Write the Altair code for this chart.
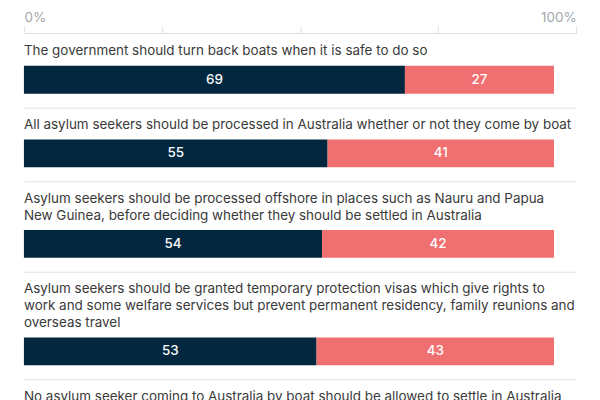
import altair as alt
import pandas as pd

# ---- data ----
questions = [
    ["The government should turn back boats when it is safe to do so"],
    ["All asylum seekers should be processed in Australia whether or not they come by boat"],
    ["Asylum seekers should be processed offshore in places such as Nauru and Papua",
     "New Guinea, before deciding whether they should be settled in Australia"],
    ["Asylum seekers should be granted temporary protection visas which give rights to",
     "work and some welfare services but prevent permanent residency, family reunions and",
     "overseas travel"],
    ["No asylum seeker coming to Australia by boat should be allowed to settle in Australia"],
]
agree = [69, 55, 54, 53, None]      # last row is cut off in the reference
disagree = [27, 41, 42, 43, None]
series = ["Agree", "Disagree"]
series_colors = ["#02273f", "#f07072"]
tick_values = [0, 25, 50, 75, 100]

rows = []
for i in range(len(questions)):
    for order, (name, vals) in enumerate(zip(series, [agree, disagree])):
        if vals[i] is not None:
            rows.append({"row": i, "series": name, "order": order, "value": vals[i]})
df = pd.DataFrame(rows, columns=["row", "series", "order", "value"])

FONT = "Inter"
W = 555
BAR_H = 28
LINE = "#dbe2e8"
FS = 13.5

xscale = alt.Scale(domain=[0, 100], nice=False, zero=True)

# ---- top axis panel ----
axis_df = pd.DataFrame({"t": tick_values})
axis_panel = alt.Chart(axis_df).mark_rule(opacity=0).encode(
    x=alt.X("t:Q", scale=xscale,
            axis=alt.Axis(orient="top", values=tick_values, title=None,
                          labelExpr="datum.value == 0 || datum.value == 100 ? datum.value + '%' : ''",
                          labelFlush=True, tickSize=7, tickColor=LINE, domainColor=LINE,
                          labelColor="#a3a8ad", labelFontSize=FS, labelFont=FONT,
                          labelPadding=2, grid=False))
).properties(width=W, height=1)

# ---- one panel per question ----
panels = [axis_panel]
for i, lines in enumerate(questions):
    base = alt.Chart(df).transform_filter(alt.datum.row == i).transform_stack(
        stack="value", groupby=["row"], as_=["x0", "x1"],
        sort=[alt.SortField("order", order="ascending")]
    ).transform_calculate(mid="(datum.x0 + datum.x1) / 2")

    y = alt.Y("row:N", axis=None, scale=alt.Scale(paddingInner=0, paddingOuter=0))
    bars = base.mark_bar(cornerRadius=0).encode(
        x=alt.X("x0:Q", scale=xscale,
                axis=alt.Axis(orient="bottom", labels=False, ticks=False, domain=True,
                              domainColor=LINE, offset=14, title=None, grid=False)),
        x2="x1:Q",
        y=y,
        color=alt.Color("series:N", scale=alt.Scale(domain=series, range=series_colors),
                        legend=None),
    )
    labels = base.mark_text(color="white", fontSize=FS, font=FONT, fontWeight=500).encode(
        x=alt.X("mid:Q", scale=xscale),
        y=y,
        text=alt.Text("value:Q", format="d"),
    )
    panel = alt.layer(bars, labels).properties(
        width=W, height=BAR_H,
        title=alt.TitleParams(text=lines, anchor="start", fontSize=FS, font=FONT,
                              color="#3a3a3a", fontWeight="normal", lineHeight=17,
                              offset=8),
    )
    panels.append(panel)

chart = alt.vconcat(*panels, spacing=10).properties(
    padding={"left": 15, "top": 1, "right": 15, "bottom": 5}
).configure(font=FONT).configure_view(stroke=None, fill=None)

chart.save("out.html", embed_options={"renderer": "svg", "actions": False})
